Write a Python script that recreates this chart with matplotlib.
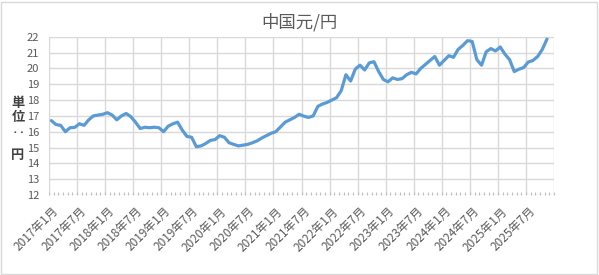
import matplotlib
matplotlib.use("Agg")
import matplotlib.pyplot as plt
import numpy as np
from matplotlib.patches import Rectangle

plt.rcParams['font.family'] = ['Noto Sans CJK JP', 'DejaVu Sans']

title = "中国元/円"
ylabel_chars = ["単", "位", "‥", "円"]

# monthly categories 2017-01 .. 2025-12
years = list(range(2017, 2026))
categories = [f"{y}年{m}月" for y in years for m in range(1, 13)]

values = [
    16.7, 16.45, 16.4, 16.0, 16.25, 16.27, 16.5, 16.4, 16.75, 17.0, 17.05, 17.1,   # 2017
    17.2, 17.05, 16.75, 17.0, 17.15, 16.95, 16.6, 16.2, 16.28, 16.25, 16.28, 16.25,  # 2018
    16.0, 16.35, 16.5, 16.6, 16.1, 15.7, 15.65, 15.05, 15.1, 15.25, 15.45, 15.5,    # 2019
    15.75, 15.65, 15.3, 15.2, 15.1, 15.15, 15.2, 15.3, 15.42, 15.6, 15.75, 15.9,    # 2020
    16.0, 16.3, 16.6, 16.75, 16.9, 17.1, 16.98, 16.9, 17.0, 17.6, 17.75, 17.85,     # 2021
    18.0, 18.15, 18.6, 19.6, 19.2, 19.95, 20.2, 19.9, 20.35, 20.42, 19.8, 19.3,     # 2022
    19.15, 19.4, 19.3, 19.35, 19.6, 19.75, 19.65, 20.0, 20.25, 20.5, 20.75, 20.2,   # 2023
    20.5, 20.8, 20.7, 21.2, 21.45, 21.75, 21.7, 20.55, 20.2, 21.05, 21.25, 21.1,    # 2024
    21.35, 20.9, 20.55, 19.8, 19.95, 20.05, 20.4, 20.5, 20.75, 21.2, 21.85,         # 2025
]

tick_labels = ["2017年1月", "2017年7月", "2018年1月", "2018年7月", "2019年1月",
               "2019年7月", "2020年1月", "2020年7月", "2021年1月", "2021年7月",
               "2022年1月", "2022年7月", "2023年1月", "2023年7月", "2024年1月",
               "2024年7月", "2025年1月", "2025年7月"]
y_ticks = [12, 13, 14, 15, 16, 17, 18, 19, 20, 21, 22]

fig = plt.figure(figsize=(5.99, 2.75), dpi=100)
ax = fig.add_axes([0.0818, 0.2909, 0.9249 - 0.0818, 0.8665 - 0.2909])

grid_c = "#D9D9D9"
text_c = "#595959"
n_cat = len(categories)

x = np.arange(len(values)) + 0.5
ax.plot(x, values, color="#5B9BD5", lw=2.3, solid_joinstyle="round",
        solid_capstyle="round", zorder=3, clip_on=False)

ax.set_xlim(0, n_cat)
ax.set_ylim(y_ticks[0], y_ticks[-1])

# gridlines
for yv in y_ticks:
    ax.axhline(yv, color=grid_c, lw=1.0, zorder=1)
for xv in range(0, n_cat + 1, 6):
    ax.axvline(xv, color=grid_c, lw=1.0, zorder=1)

for s in ax.spines.values():
    s.set_visible(False)

ax.set_yticks(y_ticks)
ax.set_yticklabels([str(v) for v in y_ticks], fontsize=8, color=text_c)
ax.tick_params(axis='y', length=0, pad=7)

ax.set_xticks([6 * k + 0.5 for k in range(len(tick_labels))])
ax.set_xticklabels(tick_labels, fontsize=8.5, color=text_c, rotation=45,
                   ha='right', va='top', rotation_mode='anchor')
ax.tick_params(axis='x', which='major', length=0, pad=7)
ax.set_xticks(np.arange(0, n_cat + 1), minor=True)
ax.tick_params(axis='x', which='minor', direction='in', length=2.5, width=0.8, color="#BFBFBF")

fig.text(0.5, 0.918, title, ha='center', va='center', fontsize=12.5, color=text_c)

ypos = [103, 117, 133, 155]
for ch, yp in zip(ylabel_chars, ypos):
    fig.text(18 / 599, 1 - yp / 275, ch, ha='center', va='center', fontsize=9.5,
             fontweight='bold', color="#404040")

fig.patches.append(Rectangle((0.002, 0.004), 0.995, 0.99, transform=fig.transFigure,
                             fill=False, edgecolor=grid_c, lw=1.0))

fig.savefig("out.png", dpi=100, facecolor="white")
